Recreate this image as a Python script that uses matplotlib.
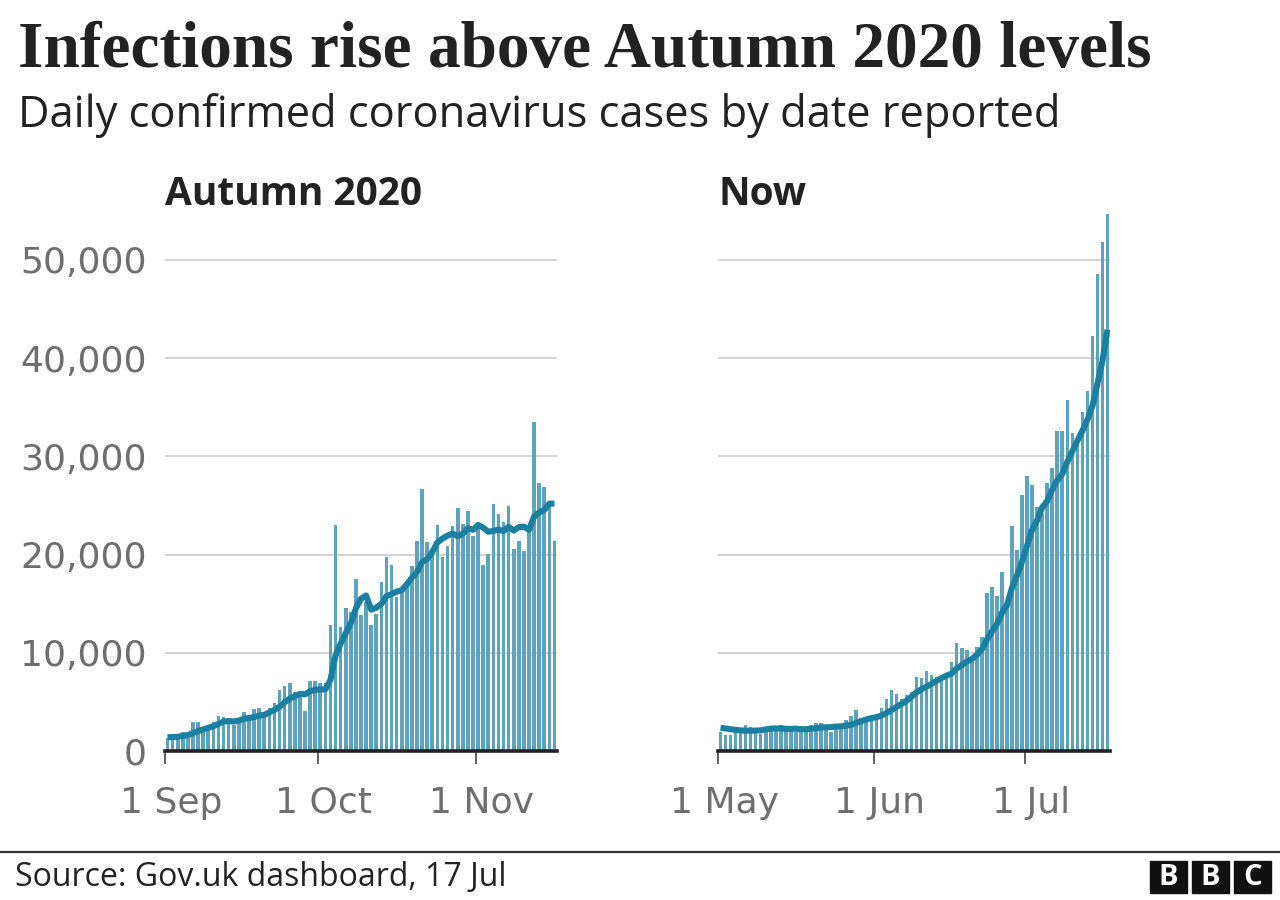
import numpy as np
import matplotlib.pyplot as plt
import matplotlib.transforms as mtransforms
from matplotlib.patches import Rectangle
from matplotlib.lines import Line2D

# daily confirmed cases, 1 Sep - 16 Nov 2020
autumn_cases = [1295, 1508, 1735, 1940, 1813, 2988, 2948, 2420, 2659, 2919,
                3539, 3497, 3330, 2621, 3105, 3991, 3395, 4322, 4422, 3899,
                4368, 4926, 6178, 6634, 6874, 6042, 5693, 4044, 7143, 7108,
                6914, 6968, 12872, 22961, 12594, 14542, 14162, 17540, 13864, 15166,
                12872, 13972, 17234, 19724, 18980, 15650, 16171, 16982, 18804, 21331,
                26688, 21242, 20530, 23012, 19790, 20890, 22885, 24701, 23065, 24405,
                21915, 23254, 18950, 20018, 25177, 24141, 23287, 24957, 20572, 21350,
                20412, 22950, 33470, 27301, 26860, 24962, 21363]
# 7-day average line
autumn_avg = [1400, 1420, 1450, 1530, 1630, 1812, 2032, 2193, 2358, 2527,
              2755, 2996, 3045, 2998, 3096, 3286, 3354, 3466, 3598, 3679,
              3929, 4189, 4501, 4964, 5329, 5560, 5816, 5770, 6087, 6220,
              6260, 6273, 7249, 9716, 10937, 11994, 13002, 14520, 15505, 15833,
              14391, 14588, 14973, 15767, 15973, 16228, 16372, 16959, 17649, 18235,
              19229, 19553, 20250, 21227, 21628, 21926, 22148, 21864, 22125, 22678,
              22522, 23016, 22739, 22330, 22398, 22551, 22392, 22826, 22443, 22786,
              22842, 22524, 23857, 24287, 24559, 25186, 25188]

# daily confirmed cases, 1 May - 17 Jul 2021
now_cases = [1907, 1671, 1649, 1946, 2166, 2613, 2490, 2047, 1770, 2357,
             2474, 2284, 2657, 2193, 2027, 1926, 1979, 2412, 2696, 2874,
             2829, 2235, 1979, 2439, 2493, 3180, 3542, 4182, 3398, 3240,
             3383,
             3165, 4330, 5274, 6238, 5765, 5341, 5683, 6048, 7540, 7393,
             8125, 7738, 7490, 7742, 7673, 9055, 11007, 10476, 10321, 9284,
             10633, 11625, 16135, 16703, 15810, 18270, 14876, 22868, 20479, 26068,
             27989, 27125, 24885, 24248, 27334, 28773, 32548, 32551, 35707, 32367,
             31772, 34471, 36660, 42302, 48553, 51870, 54674]
now_avg = [2350, 2300, 2220, 2150, 2100, 2070, 2063, 2083, 2097, 2198,
           2274, 2291, 2297, 2255, 2252, 2274, 2220, 2211, 2270, 2301,
           2392, 2422, 2429, 2495, 2506, 2576, 2671, 2864, 3030, 3211,
           3345,
           3441, 3606, 3853, 4147, 4485, 4785, 5114, 5526, 5984, 6287,
           6556, 6838, 7145, 7439, 7672, 7888, 8404, 8740, 9109, 9365,
           9778, 10343, 11354, 12168, 12930, 14066, 14865, 16612, 17877, 19296,
           20909, 22525, 23470, 24809, 25447, 26632, 27557, 28209, 29435, 30504,
           31579, 32598, 33725, 35119, 37405, 39714, 42900]

autumn_ticks = [0, 30, 61]
autumn_labels = ['1 Sep', '1 Oct', '1 Nov']
now_ticks = [0, 31, 61]
now_labels = ['1 May', '1 Jun', '1 Jul']
y_ticks = [0, 10000, 20000, 30000, 40000, 50000]
y_labels = ['0', '10,000', '20,000', '30,000', '40,000', '50,000']

W, H = 1280, 900
bar_col = '#5ea2bc'
line_col = '#1a7fa0'
grey = '#6e6e6e'
dark = '#222222'
sans = ['Open Sans', 'DejaVu Sans']
ticks_font = ['DejaVu Sans']

def fx(px):
    return px / W

def fy(py):
    return 1 - py / H

fig = plt.figure(figsize=(12.8, 9), dpi=100)
fig.patch.set_facecolor('white')

ax_bottom = 751
ax_top = 201
panels = [
    (165, autumn_cases, autumn_avg, autumn_ticks, autumn_labels, 'Autumn 2020', True),
    (718, now_cases, now_avg, now_ticks, now_labels, 'Now', False),
]

# month labels sit a few pixels right of their tick
shift = mtransforms.ScaledTranslation(0.06, 0, fig.dpi_scale_trans)

for left, cases, avg, ticks, labels, name, show_y in panels:
    ax = fig.add_axes([fx(left), fy(ax_bottom), fx(392), (ax_bottom - ax_top) / H])
    n = len(cases)
    x = np.arange(n) + 0.5
    ax.bar(x, cases, width=0.7, color=bar_col, zorder=2)
    ax.plot(x, avg, color=line_col, lw=4.4, solid_capstyle='butt',
            solid_joinstyle='round', zorder=3)
    ax.set_xlim(0, n)
    ax.set_ylim(0, 56000)
    for s in ax.spines.values():
        s.set_visible(False)
    ax.axhline(0, color=dark, lw=2.6, zorder=4, clip_on=False)
    for yv in y_ticks[1:]:
        ax.axhline(yv, color='#cccccc', lw=1.2, zorder=1)
    ax.set_yticks(y_ticks)
    if show_y:
        ax.set_yticklabels(y_labels, fontsize=26, color=grey, family=ticks_font)
    else:
        ax.set_yticklabels([])
    ax.tick_params(axis='y', length=0, pad=13)
    ax.set_xticks(ticks)
    ax.set_xticklabels(labels, fontsize=26, color=grey, family=ticks_font)
    ax.tick_params(axis='x', length=9, width=1.1, color='#333333', pad=16)
    for lab in ax.get_xticklabels():
        lab.set_transform(lab.get_transform() + shift)
    fig.text(fx(left), fy(205), name, fontsize=28, fontweight='bold',
             color=dark, family=sans, ha='left', va='baseline')

fig.text(fx(18), fy(67), 'Infections rise above Autumn 2020 levels', fontsize=47,
         fontweight='bold', color=dark, family=['Liberation Serif', 'DejaVu Serif'],
         ha='left', va='baseline')
fig.text(fx(18), fy(127), 'Daily confirmed coronavirus cases by date reported',
         fontsize=31.3, color=dark, family=sans, ha='left', va='baseline')

fig.add_artist(Line2D([0, 1], [fy(852), fy(852)], transform=fig.transFigure,
                      color='#333333', lw=1.6))
fig.text(fx(15), fy(877), 'Source: Gov.uk dashboard, 17 Jul', fontsize=23,
         color=dark, family=sans, ha='left', va='center')

for i, letter in enumerate('BBC'):
    x0 = 1150 + i * 42
    fig.add_artist(Rectangle((fx(x0), fy(893)), fx(37), 32 / H,
                             transform=fig.transFigure, color='#111111'))
    fig.text(fx(x0 + 18.5), fy(877.5), letter, fontsize=21, fontweight='bold',
             color='white', family=sans, ha='center', va='center')

fig.savefig('out.png', dpi=100, facecolor='white')
